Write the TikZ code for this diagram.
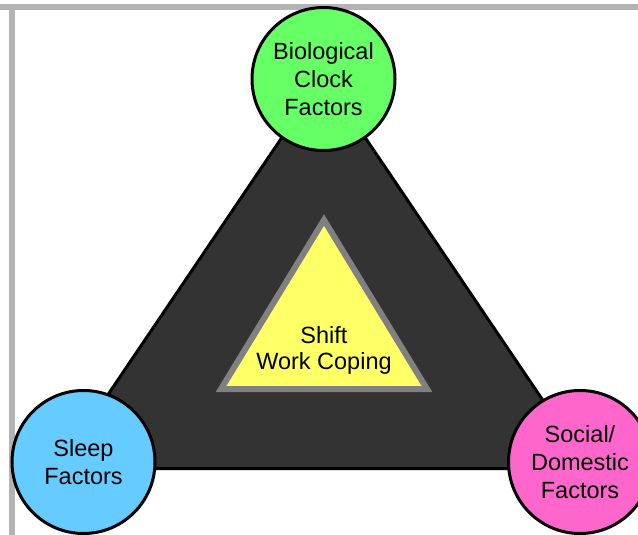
\documentclass[tikz,border=0pt]{standalone}
\usepackage{fontspec}
\setmainfont{Liberation Sans}
\definecolor{bargray}{HTML}{B3B3B3}
\definecolor{darkfill}{HTML}{333333}
\definecolor{coregray}{HTML}{808080}
\definecolor{coreyellow}{HTML}{FFFF66}
\definecolor{bioGreen}{HTML}{66FF66}
\definecolor{sleepBlue}{HTML}{66CCFF}
\definecolor{socialPink}{HTML}{FF66CC}
\begin{document}
\begin{tikzpicture}[x=1pt,y=-1pt,
  factor/.style={circle,draw=black,line width=3pt,minimum size=143pt,inner sep=0pt,
    align=center,font=\fontsize{23.5}{28}\selectfont},
  corelabel/.style={align=center,font=\fontsize{23.5}{26}\selectfont,inner sep=0pt},
  bar/.style={fill=bargray},
  outertri/.style={draw=black,line width=3pt,fill=darkfill,line join=miter},
  innertri/.style={draw=coregray,line width=6pt,fill=coreyellow,line join=miter}]
\useasboundingbox (0,0) rectangle (638,535);
\clip (0,0) rectangle (638,535);
% frame bars
\fill[bar] (0,4) rectangle (638,10);
\fill[bar] (9,10) rectangle (15,535);
% outer dark triangle
\draw[outertri] (323.5,76) -- (589,468.5) -- (58,468.5) -- cycle;
% inner yellow triangle
\draw[innertri] (324,220) -- (427,389) -- (221,389) -- cycle;
\node[corelabel] (core) at (324,350) {Shift\\Work Coping};
% factor circles
\node[factor,fill=bioGreen] (bio) at (323.5,79) {Biological\\Clock\\Factors};
\node[factor,fill=sleepBlue] (sleep) at (83.5,462) {Sleep\\Factors};
\node[factor,fill=socialPink] (social) at (580,462) {Social/\\Domestic\\Factors};
\end{tikzpicture}
\end{document}
